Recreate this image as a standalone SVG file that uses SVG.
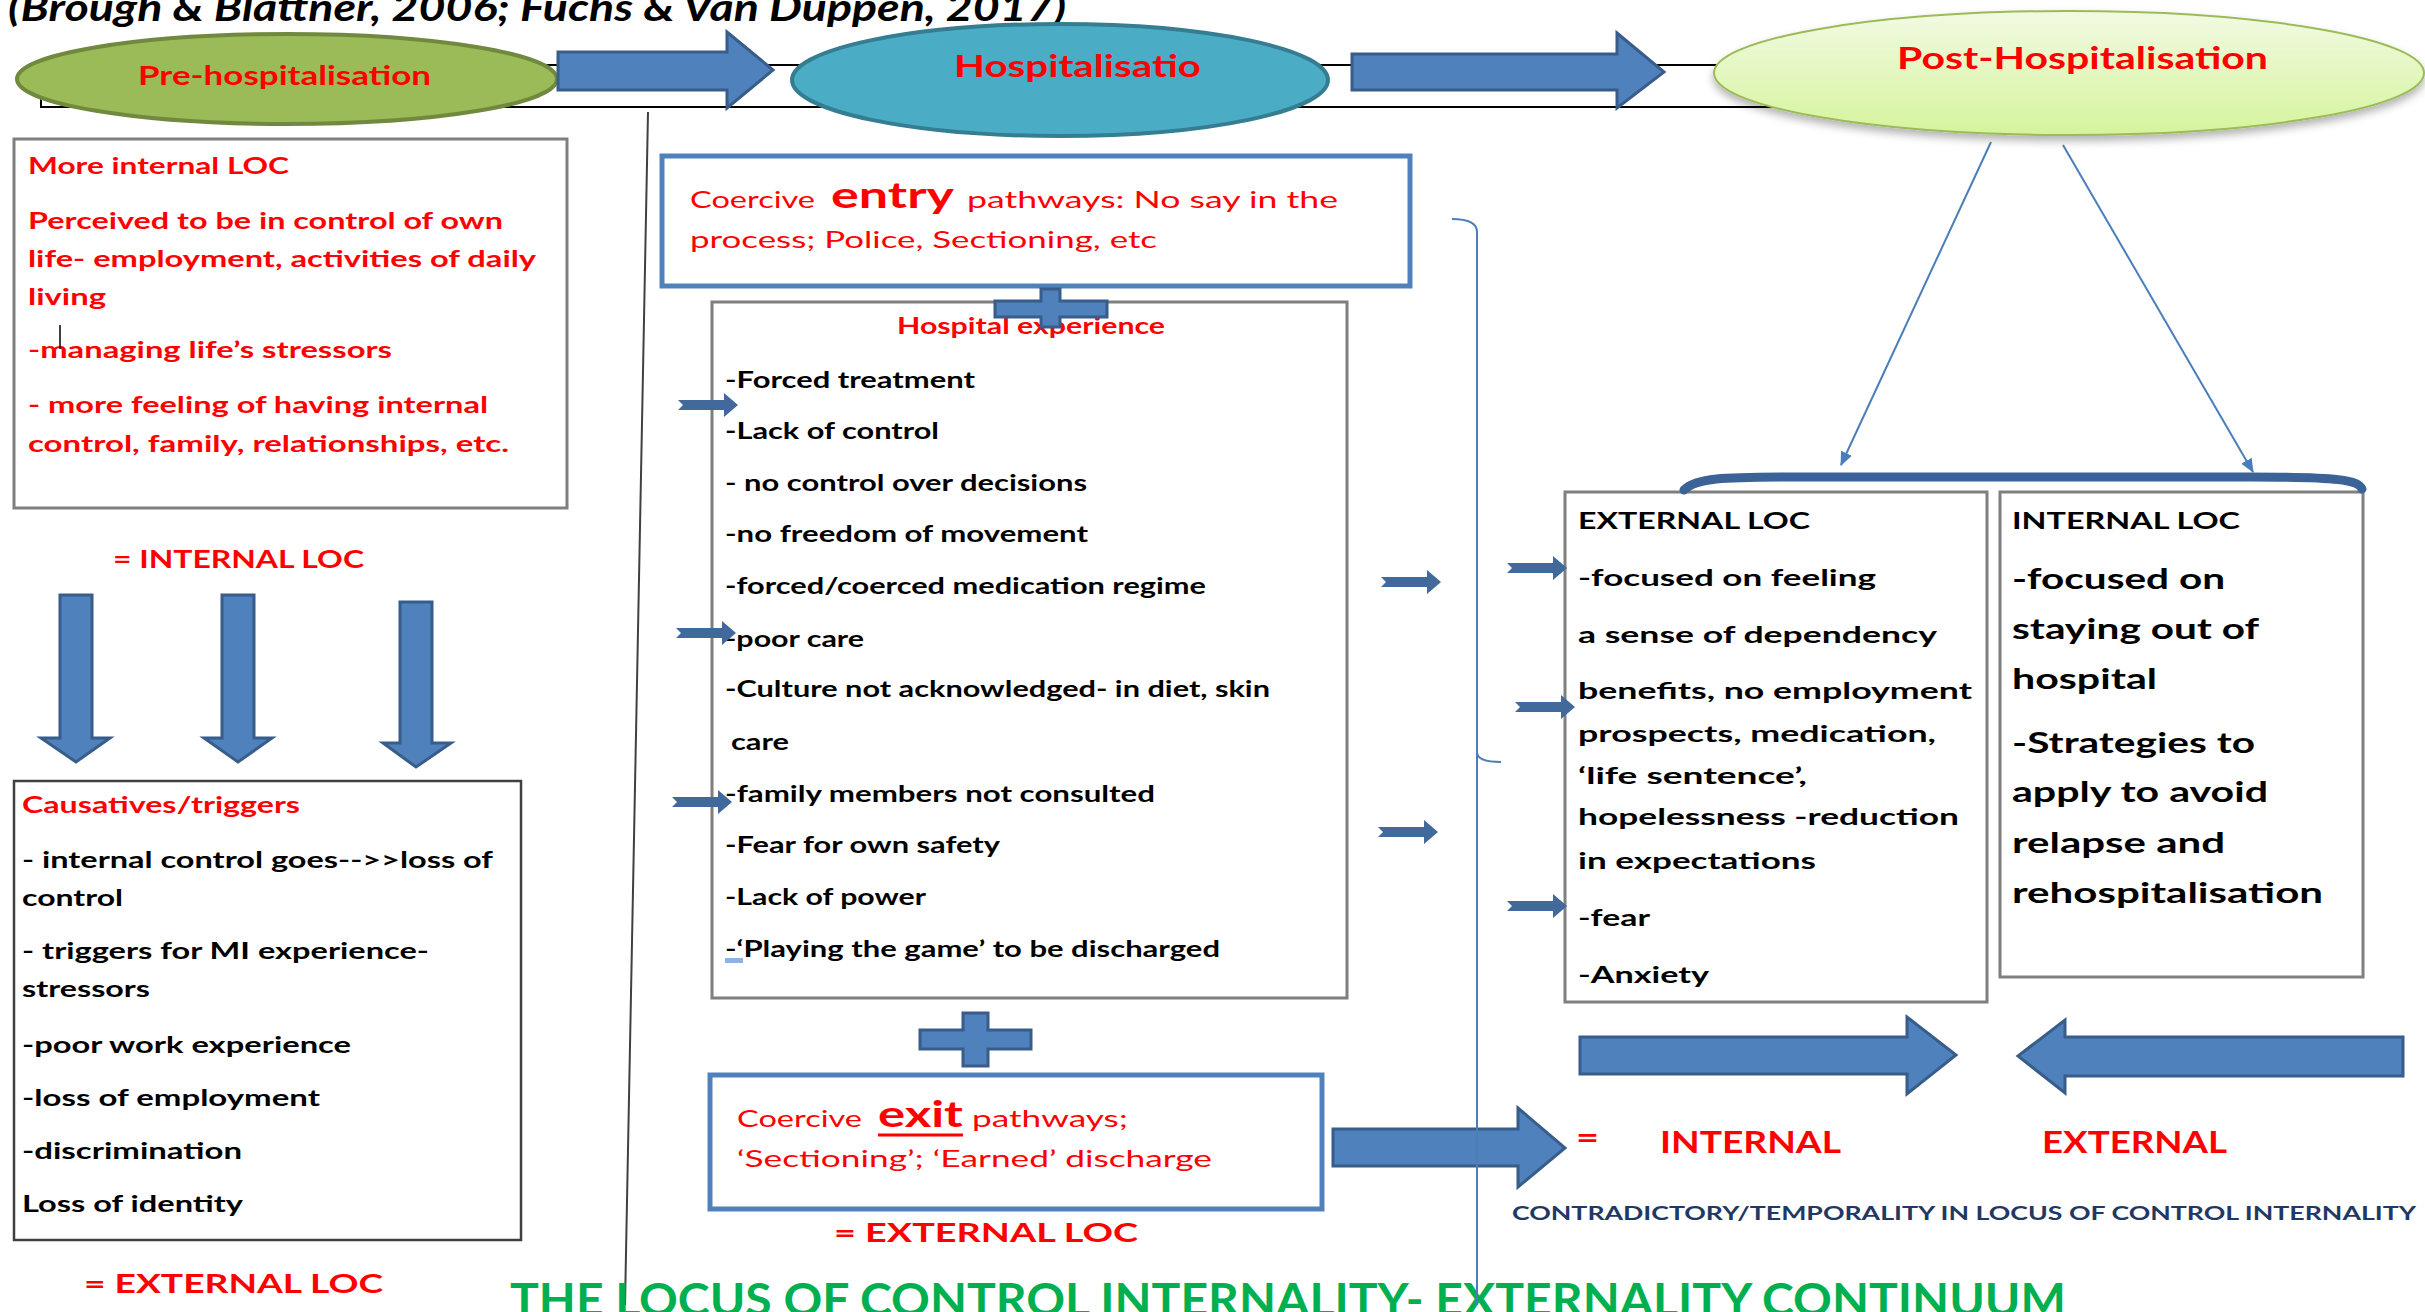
<svg xmlns="http://www.w3.org/2000/svg" width="2425" height="1312" viewBox="0 0 2425 1312">
<style>
text{font-family:Lato,"Liberation Sans",sans-serif;font-weight:700}
.rg{font-weight:400}
.r{fill:#FF0000}
.k{fill:#000000}
.f23{font-size:23px}
.f24{font-size:24px}
.f29{font-size:29px}
.box{fill:#FFFFFF;stroke:#7F7F7F;stroke-width:3}
.bbox{fill:#FFFFFF;stroke:#4F81BD;stroke-width:5}
.blk{fill:#4F81BD;stroke:#385D8A;stroke-width:3;stroke-linejoin:miter}
.thin{stroke:#4A7EBB;stroke-width:2;fill:none}
</style>
<defs>
<linearGradient id="gPost" x1="0" y1="0" x2="0" y2="1">
<stop offset="0" stop-color="#F2FAE3"/>
<stop offset="1" stop-color="#D5F49C"/>
</linearGradient>
<filter id="shadow" x="-10%" y="-20%" width="120%" height="150%">
<feDropShadow dx="0" dy="5" stdDeviation="4" flood-color="#000" flood-opacity="0.3"/>
</filter>
<marker id="ah" markerWidth="14" markerHeight="12" refX="13" refY="6" orient="auto" markerUnits="userSpaceOnUse">
<path d="M0,0 L14,6 L0,12 Z" fill="#4A7EBB"/>
</marker>
<path id="sa" d="M-60,-5 L-14,-5 L-14,-12 L0,0 L-14,12 L-14,5 L-60,5 L-55,0 Z" fill="#41699C"/>
</defs>
<rect width="2425" height="1312" fill="#FFFFFF"/>

<text x="8" y="21" font-size="38" font-style="italic" class="k" textLength="1058" lengthAdjust="spacingAndGlyphs">(Brough &amp; Blattner, 2006; Fuchs &amp; Van Duppen, 2017)</text>

<g id="frame">
<rect x="41" y="65" width="2259" height="42" fill="none" stroke="#000" stroke-width="2"/>
<line x1="648" y1="112" x2="625" y2="1305" stroke="#404040" stroke-width="2"/>
</g>

<g id="pre-hospitalisation">
<ellipse cx="287" cy="79" rx="270" ry="45" fill="#9BBB59" stroke="#71893F" stroke-width="4"/>
<text x="138" y="85" font-size="26" class="r" textLength="293" lengthAdjust="spacingAndGlyphs">Pre-hospitalisation</text>
</g>

<g id="hospitalisation">
<ellipse cx="1060" cy="80" rx="268" ry="56" fill="#4BACC6" stroke="#357D91" stroke-width="4"/>
<text x="954" y="77" font-size="30" class="r" textLength="247" lengthAdjust="spacingAndGlyphs">Hospitalisatio</text>
</g>

<g id="post-hospitalisation">
<ellipse cx="2069" cy="73" rx="355" ry="62" fill="url(#gPost)" stroke="#9BBB59" stroke-width="2" filter="url(#shadow)"/>
<text x="1897" y="69" font-size="30" class="r" textLength="371" lengthAdjust="spacingAndGlyphs">Post-Hospitalisation</text>
</g>

<g id="more-internal-loc">
<rect class="box" x="14" y="139" width="553" height="369"/>
<g class="r f23">
<text x="28" y="174" textLength="261" lengthAdjust="spacingAndGlyphs">More internal LOC</text>
<text x="28" y="229" textLength="475" lengthAdjust="spacingAndGlyphs">Perceived to be in control of own</text>
<text x="28" y="267" textLength="508" lengthAdjust="spacingAndGlyphs">life- employment, activities of daily</text>
<text x="28" y="305" textLength="78" lengthAdjust="spacingAndGlyphs">living</text>
<text x="28" y="358" textLength="364" lengthAdjust="spacingAndGlyphs">-managing life’s stressors</text>
<text x="28" y="413" textLength="460" lengthAdjust="spacingAndGlyphs">- more feeling of having internal</text>
<text x="28" y="452" textLength="481" lengthAdjust="spacingAndGlyphs">control, family, relationships, etc.</text>
</g>
<line x1="60" y1="325" x2="60" y2="349" stroke="#000" stroke-width="1.5"/>
</g>

<g id="internal-loc-label">
<text x="113" y="568" font-size="25" class="r" textLength="251" lengthAdjust="spacingAndGlyphs">= INTERNAL LOC</text>
</g>

<g id="causatives">
<rect x="14" y="781" width="507" height="459" fill="#FFFFFF" stroke="#404040" stroke-width="2.5"/>
<g class="f23">
<text x="22" y="813" class="r" textLength="278" lengthAdjust="spacingAndGlyphs">Causatives/triggers</text>
<text x="22" y="868" class="k" textLength="471" lengthAdjust="spacingAndGlyphs">- internal control goes--&gt;&gt;loss of</text>
<text x="22" y="906" class="k" textLength="101" lengthAdjust="spacingAndGlyphs">control</text>
<text x="22" y="959" class="k" textLength="407" lengthAdjust="spacingAndGlyphs">- triggers for MI experience-</text>
<text x="22" y="997" class="k" textLength="128" lengthAdjust="spacingAndGlyphs">stressors</text>
<text x="22" y="1053" class="k" textLength="329" lengthAdjust="spacingAndGlyphs">-poor work experience</text>
<text x="22" y="1106" class="k" textLength="298" lengthAdjust="spacingAndGlyphs">-loss of employment</text>
<text x="22" y="1159" class="k" textLength="220" lengthAdjust="spacingAndGlyphs">-discrimination</text>
<text x="22" y="1212" class="k" textLength="221" lengthAdjust="spacingAndGlyphs">Loss of identity</text>
</g>
</g>

<g id="external-loc-label-left">
<text x="84" y="1293" font-size="27" class="r" textLength="299" lengthAdjust="spacingAndGlyphs">= EXTERNAL LOC</text>
</g>

<g id="entry-pathways">
<rect class="bbox" x="662" y="156" width="748" height="130"/>
<text x="690" y="208" class="r rg f24" textLength="125" lengthAdjust="spacingAndGlyphs">Coercive</text>
<text x="831" y="208" class="r" font-size="36" textLength="123" lengthAdjust="spacingAndGlyphs">entry</text>
<text x="967" y="208" class="r rg f24" textLength="371" lengthAdjust="spacingAndGlyphs">pathways:  No say in the</text>
<text x="690" y="248" class="r rg f24" textLength="467" lengthAdjust="spacingAndGlyphs">process; Police, Sectioning, etc</text>
</g>

<g id="hospital-experience">
<rect class="box" x="712" y="302" width="635" height="696"/>
<text x="897" y="334" class="r f23" textLength="268" lengthAdjust="spacingAndGlyphs">Hospital experience</text>
<g class="k f23">
<text x="725" y="388" textLength="250" lengthAdjust="spacingAndGlyphs">-Forced treatment</text>
<text x="725" y="439" textLength="214" lengthAdjust="spacingAndGlyphs">-Lack of control</text>
<text x="725" y="491" textLength="362" lengthAdjust="spacingAndGlyphs">- no control over decisions</text>
<text x="725" y="542" textLength="363" lengthAdjust="spacingAndGlyphs">-no freedom of movement</text>
<text x="725" y="594" textLength="481" lengthAdjust="spacingAndGlyphs">-forced/coerced medication regime</text>
<text x="725" y="647" textLength="139" lengthAdjust="spacingAndGlyphs">-poor care</text>
<text x="725" y="697" textLength="545" lengthAdjust="spacingAndGlyphs">-Culture not acknowledged- in diet, skin</text>
<text x="731" y="750" textLength="58" lengthAdjust="spacingAndGlyphs">care</text>
<text x="725" y="802" textLength="430" lengthAdjust="spacingAndGlyphs">-family  members not consulted</text>
<text x="725" y="853" textLength="275" lengthAdjust="spacingAndGlyphs">-Fear for own safety</text>
<text x="725" y="905" textLength="201" lengthAdjust="spacingAndGlyphs">-Lack of power</text>
<text x="725" y="957" textLength="495" lengthAdjust="spacingAndGlyphs">-‘Playing the game’ to be discharged</text>
</g>
<rect x="725" y="958" width="18" height="5" fill="#8DB3E2"/>
</g>

<g id="exit-pathways">
<rect class="bbox" x="710" y="1075" width="612" height="134"/>
<text x="737" y="1127" class="r rg f24" textLength="125" lengthAdjust="spacingAndGlyphs">Coercive</text>
<text x="878" y="1127" class="r" font-size="36" textLength="85" lengthAdjust="spacingAndGlyphs">exit</text>
<line x1="878" y1="1135" x2="963" y2="1135" stroke="#FF0000" stroke-width="3"/>
<text x="972" y="1127" class="r rg f24" textLength="156" lengthAdjust="spacingAndGlyphs">pathways;</text>
<text x="737" y="1167" class="r rg f24" textLength="475" lengthAdjust="spacingAndGlyphs">‘Sectioning’; ‘Earned’ discharge</text>
</g>

<g id="external-loc-label-mid">
<text x="834" y="1242" font-size="27" class="r" textLength="304" lengthAdjust="spacingAndGlyphs">= EXTERNAL LOC</text>
</g>

<g id="external-loc-box">
<rect class="box" x="1565" y="492" width="422" height="510"/>
<g class="k f23">
<text x="1578" y="529" textLength="232" lengthAdjust="spacingAndGlyphs">EXTERNAL LOC</text>
<text x="1578" y="586" textLength="298" lengthAdjust="spacingAndGlyphs">-focused on feeling</text>
<text x="1578" y="643" textLength="359" lengthAdjust="spacingAndGlyphs">a sense of dependency</text>
<text x="1578" y="699" textLength="394" lengthAdjust="spacingAndGlyphs">benefits, no employment</text>
<text x="1578" y="742" textLength="358" lengthAdjust="spacingAndGlyphs">prospects, medication,</text>
<text x="1578" y="784" textLength="229" lengthAdjust="spacingAndGlyphs">‘life sentence’,</text>
<text x="1578" y="825" textLength="381" lengthAdjust="spacingAndGlyphs">hopelessness -reduction</text>
<text x="1578" y="869" textLength="238" lengthAdjust="spacingAndGlyphs">in expectations</text>
<text x="1578" y="926" textLength="72" lengthAdjust="spacingAndGlyphs">-fear</text>
<text x="1578" y="983" textLength="131" lengthAdjust="spacingAndGlyphs">-Anxiety</text>
</g>
</g>

<g id="internal-loc-box">
<rect class="box" x="2000" y="492" width="363" height="485"/>
<text x="2012" y="529" class="k f23" textLength="228" lengthAdjust="spacingAndGlyphs">INTERNAL LOC</text>
<g class="k f29">
<text x="2012" y="589" textLength="213" lengthAdjust="spacingAndGlyphs">-focused on</text>
<text x="2012" y="639" textLength="247" lengthAdjust="spacingAndGlyphs">staying out of</text>
<text x="2012" y="689" textLength="145" lengthAdjust="spacingAndGlyphs">hospital</text>
<text x="2012" y="753" textLength="243" lengthAdjust="spacingAndGlyphs">-Strategies to</text>
<text x="2012" y="802" textLength="256" lengthAdjust="spacingAndGlyphs">apply to avoid</text>
<text x="2012" y="853" textLength="213" lengthAdjust="spacingAndGlyphs">relapse and</text>
<text x="2012" y="903" textLength="311" lengthAdjust="spacingAndGlyphs">rehospitalisation</text>
</g>
</g>

<g id="internal-external-labels">
<text x="1576" y="1148" font-size="30" class="r" textLength="23" lengthAdjust="spacingAndGlyphs">=</text>
<text x="1660" y="1153" font-size="30" class="r" textLength="181" lengthAdjust="spacingAndGlyphs">INTERNAL</text>
<text x="2042" y="1153" font-size="30" class="r" textLength="185" lengthAdjust="spacingAndGlyphs">EXTERNAL</text>
<text x="1512" y="1220" font-size="18" fill="#1F3864" textLength="904" lengthAdjust="spacingAndGlyphs">CONTRADICTORY/TEMPORALITY IN LOCUS OF CONTROL INTERNALITY</text>
</g>

<g id="continuum-title">
<text x="510" y="1316" font-size="46" fill="#00B050" textLength="1556" lengthAdjust="spacingAndGlyphs">THE LOCUS OF CONTROL INTERNALITY- EXTERNALITY CONTINUUM</text>
</g>

<g id="connectors">
<path class="blk" d="M558,52 H727 V32 L773,70 L727,108 V90 H558 Z"/>
<path class="blk" d="M1352,54 H1617 V33 L1664,72 L1617,108 V90 H1352 Z"/>
<path class="blk" d="M60,595 H92 V738 H110 L76,762 L41,738 H60 Z"/>
<path class="blk" d="M222,595 H254 V738 H272 L238,762 L204,738 H222 Z"/>
<path class="blk" d="M400,602 H432 V743 H451 L416,767 L383,743 H400 Z"/>
<path class="blk" d="M1333,1129 H1518 V1108 L1565,1148 L1518,1187 V1166 H1333 Z"/>
<path class="blk" d="M1580,1037 H1907 V1017 L1956,1055 L1907,1094 V1074 H1580 Z"/>
<path class="blk" d="M2403,1037 H2065 V1020 L2018,1056 L2065,1093 V1076 H2403 Z"/>
<path class="blk" d="M1041,289 H1060 V301 H1107 V317 H1060 V327 H1041 V317 H995 V301 H1041 Z"/>
<path class="blk" d="M963,1013 H988 V1030 H1031 V1049 H988 V1066 H963 V1049 H920 V1030 H963 Z"/>
<path class="thin" d="M1452,219 Q1477,219 1477,232 V1305"/>
<path class="thin" d="M1477,752 Q1477,762 1501,762"/>
<line class="thin" x1="1991" y1="142" x2="1841" y2="465" marker-end="url(#ah)"/>
<line class="thin" x1="2063" y1="145" x2="2253" y2="472" marker-end="url(#ah)"/>
<path d="M1684,490 C1696,478 1720,477 1800,477 L2250,477 C2340,477 2358,480 2362,489" fill="none" stroke="#3B6398" stroke-width="9" stroke-linecap="round"/>
<use href="#sa" x="738" y="405"/>
<use href="#sa" x="736" y="633"/>
<use href="#sa" x="732" y="802"/>
<use href="#sa" x="1441" y="582"/>
<use href="#sa" x="1438" y="832"/>
<use href="#sa" x="1567" y="568"/>
<use href="#sa" x="1575" y="707"/>
<use href="#sa" x="1567" y="906"/>
</g>
</svg>
